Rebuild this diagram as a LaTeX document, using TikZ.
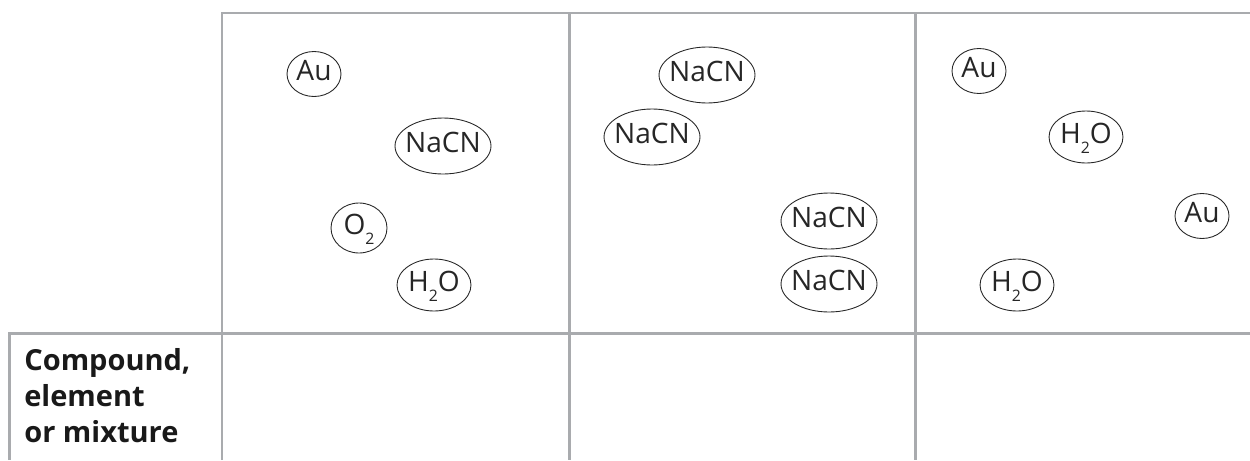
\documentclass[tikz,border=0pt]{standalone}
\usepackage{fontspec}
\setmainfont{Open Sans}
\usepackage{xcolor}
\usepackage{tikz}
\usetikzlibrary{shapes.geometric}

\definecolor{gridgray}{HTML}{A9ABAE}
\newcommand{\chemsub}[1]{\raisebox{-6pt}{\fontsize{9}{9}\selectfont #1}}

\tikzset{
    grid line/.style={gridgray,line width=1.7pt,line join=miter},
    mol/.style={ellipse,draw=black!85,line width=0.5pt,inner sep=0pt,
        text height=1.34ex,text depth=0pt,
        font=\fontsize{16}{16}\selectfont,text=black!85},
    au/.style={mol,minimum width=1.08cm,minimum height=0.9cm},
    oxy/.style={mol,minimum width=1.12cm,minimum height=1.0cm},
    water/.style={mol,minimum width=1.48cm,minimum height=1.04cm},
    salt/.style={mol,minimum width=1.92cm,minimum height=1.12cm}
}

\begin{document}
\begin{tikzpicture}[x=0.02cm,y=-0.02cm]
    \useasboundingbox (0,0) rectangle (1250,460);

    % Table lines
    \draw[grid line] (222,460) -- (222,13) -- (1250,13);
    \draw[grid line] (9.5,460) -- (9.5,333) -- (1250,333);
    \foreach \x in {569,915} {
        \draw[grid line] (\x,13) -- (\x,460);
    }

    % First box
    \node[au]    (auA)    at (314,74)  {\makebox[0pt]{Au}};
    \node[salt]  (saltA)  at (443,146) {\makebox[0pt]{NaCN}};
    \node[oxy]   (oxyA)   at (359,228) {\makebox[0pt]{O\chemsub{2}}};
    \node[water] (waterA) at (434,285) {\makebox[0pt]{H\chemsub{2}O}};

    % Second box
    \node[salt] (saltB) at (707,75)  {\makebox[0pt]{NaCN}};
    \node[salt] (saltC) at (652,137) {\makebox[0pt]{NaCN}};
    \node[salt] (saltD) at (829,221) {\makebox[0pt]{NaCN}};
    \node[salt] (saltE) at (829,284) {\makebox[0pt]{NaCN}};

    % Third box
    \node[au]    (auB)    at (979,71)   {\makebox[0pt]{Au}};
    \node[water] (waterB) at (1086,137) {\makebox[0pt]{H\chemsub{2}O}};
    \node[au]    (auC)    at (1202,216) {\makebox[0pt]{Au}};
    \node[water] (waterC) at (1017,285) {\makebox[0pt]{H\chemsub{2}O}};

    % Row label
    \node[anchor=north west,inner sep=0pt,align=left,text=black!90,
        font=\fontsize{16.5}{20.5}\selectfont\bfseries] (rowlabel) at (24,348)
        {Compound,\\element\\or mixture};
\end{tikzpicture}
\end{document}
